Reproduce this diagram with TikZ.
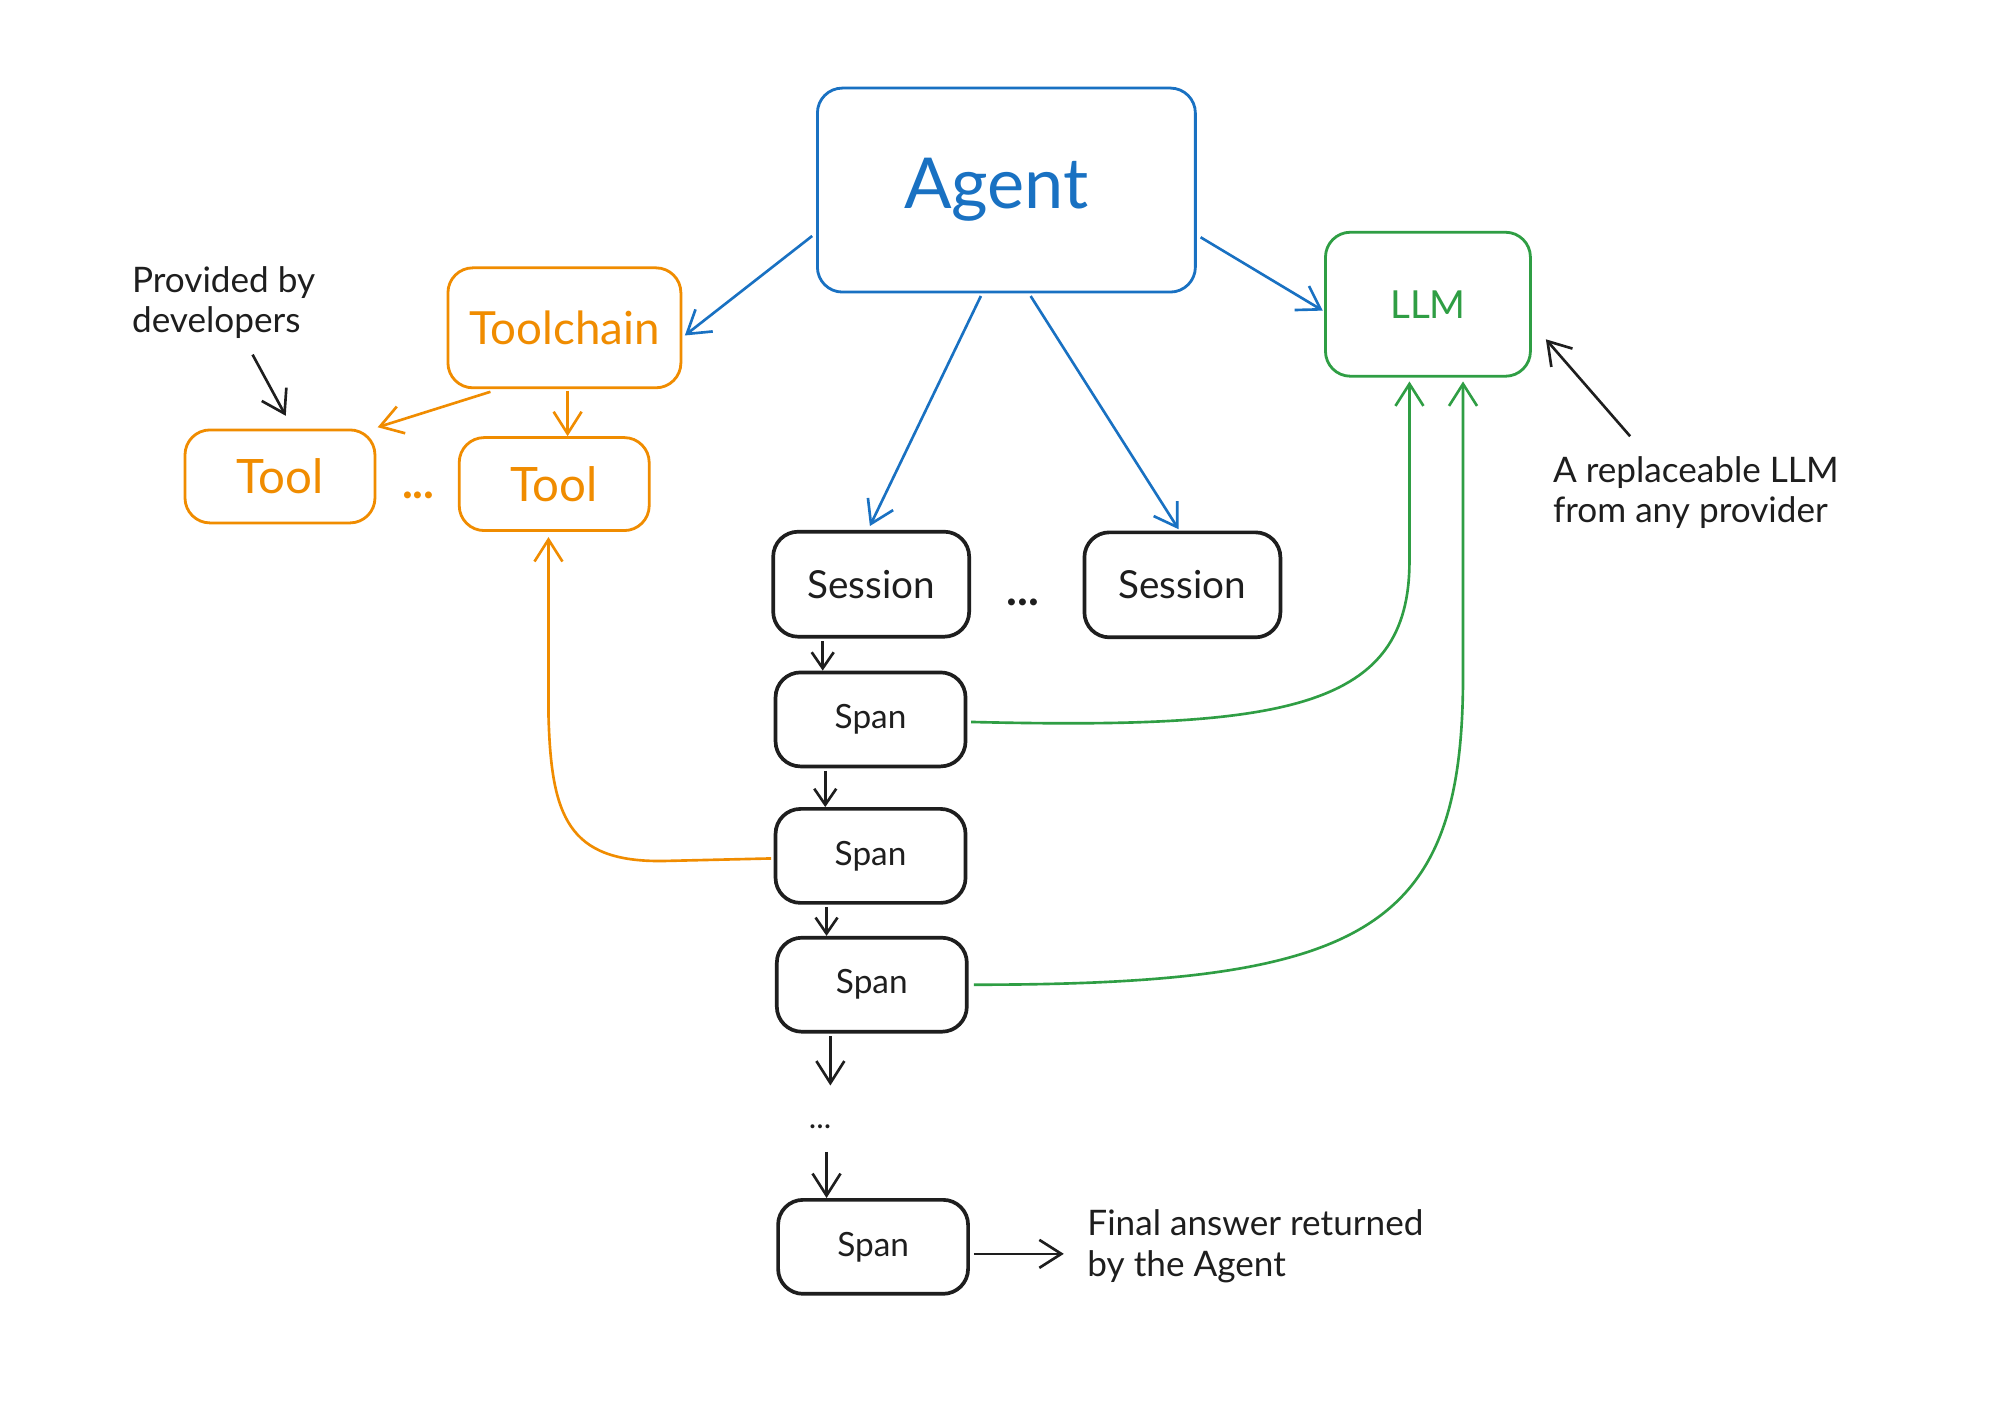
\documentclass[tikz,border=0pt]{standalone}
\usepackage{fontspec}
\setmainfont{Lato}
\usetikzlibrary{arrows.meta,calc}
\definecolor{cblue}{HTML}{1971C2}
\definecolor{corange}{HTML}{F08C00}
\definecolor{cgreen}{HTML}{2F9E44}
\definecolor{cblack}{HTML}{1E1E1E}
\begin{document}
\begin{tikzpicture}[x=0.012755cm,y=-0.012755cm,
 box/.style={draw, rounded corners=0.25cm, line width=0.8pt, inner sep=0pt},
 blackbox/.style={box, draw=cblack, text=cblack, line width=1.05pt},
 spanbox/.style={blackbox, minimum width=1.90cm, minimum height=0.94cm, font=\fontsize{9.5}{11}\selectfont},
 sessbox/.style={blackbox, minimum width=1.96cm, minimum height=1.05cm, font=\fontsize{11}{13}\selectfont},
 toolbox/.style={box, draw=corange, text=corange, minimum width=1.90cm, minimum height=0.93cm, font=\fontsize{13.5}{15}\selectfont},
 arr/.style={line width=0.75pt, -{Straight Barb[length=2.2mm,width=2.8mm]}},
 sarr/.style={line width=0.75pt, -{Straight Barb[length=1.6mm,width=2.2mm]}},
 note/.style={align=left, inner sep=0pt, text=cblack, font=\fontsize{10}{11.5}\selectfont}
]
\fill[white] (0,0) rectangle (1568,1111);
\useasboundingbox (0,0) rectangle (1568,1111);

% main nodes
\node[box, draw=cblue, text=cblue, minimum width=3.78cm, minimum height=2.04cm,
      font=\fontsize{20}{24}\selectfont] (agent) at (789,149) {\hspace*{-0.2cm}Agent};
\node[box, draw=corange, text=corange, minimum width=2.33cm, minimum height=1.20cm,
      font=\fontsize{13}{15}\selectfont] (toolchain) at (442.5,257) {Toolchain};
\node[toolbox] (tool1) at (219.5,373.5) {Tool};
\node[toolbox] (tool2) at (434.5,379.5) {Tool};
\node[box, draw=cgreen, text=cgreen, minimum width=2.05cm, minimum height=1.44cm,
      font=\fontsize{11}{13}\selectfont] (llm) at (1119.5,238.5) {LLM};
\node[sessbox] (session1) at (683,458) {Session};
\node[sessbox] (session2) at (927,458.5) {Session};
\node[spanbox] (span1) at (682.5,564) {Span};
\node[spanbox] (span2) at (682.5,671) {Span};
\node[spanbox] (span3) at (683.5,772) {Span};
\node[spanbox] (span4) at (684.5,977.5) {Span};

% dots
\node[anchor=base, inner sep=0pt, text=corange, font=\fontsize{13}{15}\selectfont\bfseries] (tdots) at (328,391) {...};
\node[anchor=base, inner sep=0pt, text=cblack, font=\fontsize{13}{15}\selectfont\bfseries] (sdots) at (802,475) {...};
\node[anchor=base, inner sep=0pt, text=cblack, font=\fontsize{9}{11}\selectfont] (bdots) at (643,885) {...};

% notes
\node[note, anchor=west] (provided) at (103,237) {Provided by\\developers};
\node[note, anchor=west] (replace) at (1217,386) {A replaceable LLM\\from any provider};
\node[note, anchor=west] (final) at (852,977) {Final answer returned\\by the Agent};

\coordinate (provtail) at (198,278);
\coordinate (reptail) at (1278,342);
\coordinate (d3top) at (651,851);
\coordinate (d3bot) at (648,903);

% blue connectors
\draw[arr, cblue] ($(agent.west)+(-3,36)$) -- ($(toolchain.east)+(2,6)$);
\draw[arr, cblue] ($(agent.east)+(3,37)$) -- ($(llm.west)+(-1,5)$);
\draw[arr, cblue] ($(agent.south)+(-20,2)$) -- ($(session1.north)+(-1,-3)$);
\draw[arr, cblue] ($(agent.south)+(19,2)$) -- ($(session2.north)+(-3,-1)$);

% orange connectors
\draw[arr, corange] ($(toolchain.south)+(-58,2)$) -- ($(tool1.north east)+(1,-1)$);
\draw[arr, corange] ($(toolchain.south)+(2.5,1)$) -- ($(tool2.north)+(10.5,0)$);
\draw[arr, corange] ($(span2.west)+(-2,2)$) -- (520,675)
   .. controls (445,676) and (432,640) .. (430,560) -- ($(tool2.south)+(-4.5,4)$);

% black chain
\draw[sarr, cblack] ($(session1.south)+(-38,2)$) -- ($(span1.north)+(-37.5,0)$);
\draw[sarr, cblack] ($(span1.south)+(-35.5,2)$) -- ($(span2.north)+(-35.5,0)$);
\draw[sarr, cblack] ($(span2.south)+(-34.5,2)$) -- ($(span3.north)+(-35.5,0)$);
\draw[arr, cblack] ($(span3.south)+(-32.5,2)$) -- (d3top);
\draw[arr, cblack] (d3bot) -- ($(span4.north)+(-36.5,0)$);
\draw[arr, cblack] ($(span4.east)+(3,5.5)$) -- ($(final.west)+(-18,6)$);

% annotations
\draw[arr, cblack] (provtail) -- ($(tool1.north)+(4.5,-10)$);
\draw[arr, cblack] (reptail) -- ($(llm.east)+(11,27.5)$);

% green connectors
\draw[arr, cgreen] ($(span1.east)+(3,2)$) .. controls (1010,572) and (1105,555) .. (1105,440)
   -- ($(llm.south)+(-14.5,3)$);
\draw[arr, cgreen] ($(span3.east)+(4,0)$) .. controls (1070,772) and (1147,730) .. (1147,530)
   -- ($(llm.south)+(27.5,3)$);
\end{tikzpicture}
\end{document}
